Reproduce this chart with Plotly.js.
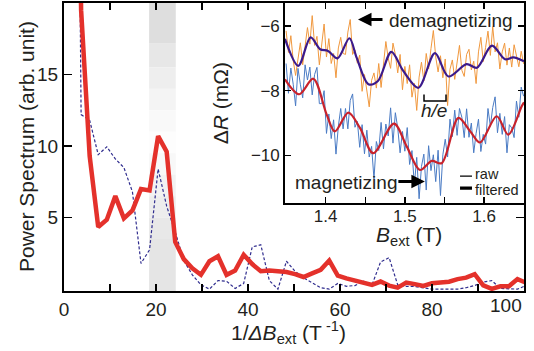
<!DOCTYPE html>
<html>
<head>
<meta charset="utf-8">
<script src="https://cdn.plot.ly/plotly-3.0.1.min.js"></script>
<style>html,body{margin:0;padding:0;background:#fff;}#chart{width:534px;height:351px;}</style>
</head>
<body>
<div id="chart"></div>
<script>
// ---------- main spectrum ----------
var invDeltaB = [1.86,3.72,5.58,7.44,9.30,11.16,13.02,14.88,16.74,18.60,20.46,22.32,24.18,26.04,27.90,29.76,31.62,33.48,35.34,37.20,39.06,40.92,42.78,44.64,46.50,48.36,50.22,52.08,53.94,55.80,57.66,59.52,61.38,63.24,65.10,66.96,68.82,70.68,72.54,74.40,76.26,78.12,79.98,81.84,83.70,85.56,87.42,89.28,91.14,93.00,94.86,96.72,98.58,100.44];
var powerSolid = [60,19.5,9.3,4.35,4.85,6.5,4.95,5.5,7.0,6.9,10.7,9.6,3.3,2.1,1.45,1.0,1.95,2.3,1.0,1.3,2.4,1.75,1.25,1.3,1.25,1.2,1.05,0.85,1.1,1.35,2.0,0.95,0.75,0.6,0.45,0.3,0.53,0.25,0.1,0.46,0.35,0.22,0.41,0.45,0.52,0.7,0.8,1.05,0.27,0.02,0.2,0.2,0.7,0.45];
var powerDashed = [80,12.2,11.8,9.4,9.95,9.1,8.5,6.8,1.8,2.75,8.4,5.8,4.0,2.0,1.0,0.3,0.0,0.6,0.55,0.05,0.4,2.95,3.1,0.6,0.0,1.95,1.25,0.8,0.45,0.1,0.0,0.4,0.2,0.25,0.55,0.3,1.9,2.2,0.3,0.2,0.18,0.1,0.0,0.0,0.0,0.0,0.1,0.25,0.5,0.6,0.05,0.0,0.0,0.25];
var mainXTicks = [0,20,40,60,80];
var mainXMinor = [10,30,50,70,90];
var mainYTicks = [5,10,15];

// ---------- inset: magnetoresistance ----------
var rawB = [1.350,1.353,1.356,1.359,1.362,1.365,1.368,1.371,1.374,1.377,
1.380,1.383,1.386,1.389,1.392,1.395,1.398,1.401,1.404,1.407,
1.410,1.413,1.416,1.419,1.422,1.425,1.428,1.431,1.434,1.437,
1.440,1.443,1.446,1.449,1.452,1.455,1.458,1.461,1.464,1.467,
1.470,1.473,1.476,1.479,1.482,1.485,1.488,1.491,1.494,1.497,
1.500,1.503,1.506,1.509,1.512,1.515,1.518,1.521,1.524,1.527,
1.530,1.533,1.536,1.539,1.542,1.545,1.548,1.551,1.554,1.557,
1.560,1.563,1.566,1.569,1.572,1.575,1.578,1.581,1.584,1.587,
1.590,1.593,1.596,1.599,1.602,1.605,1.608,1.611,1.614,1.617,
1.620,1.623,1.626,1.629,1.632,1.635,1.638,1.641,1.644,1.647,1.650];
var rawDemag = [-6.15,-6.82,-6.30,-7.07,-7.53,-7.02,-6.52,-7.20,-6.55,-6.05,
-6.56,-5.68,-6.60,-6.32,-7.20,-6.53,-5.94,-6.96,-6.39,-7.16,
-6.85,-7.60,-6.68,-6.35,-6.85,-6.88,-6.19,-5.80,-6.88,-6.75,
-7.15,-6.90,-8.02,-7.50,-8.09,-8.50,-7.68,-7.45,-7.92,-7.16,
-7.90,-7.10,-6.48,-7.00,-7.31,-6.53,-6.88,-7.45,-6.88,-7.97,
-7.25,-7.78,-7.20,-8.20,-7.77,-8.61,-7.58,-7.12,-7.70,-6.85,
-7.33,-6.70,-6.14,-6.96,-7.42,-6.92,-7.60,-7.02,-8.46,-7.34,
-7.05,-7.65,-7.16,-6.60,-7.37,-7.56,-6.88,-6.72,-7.36,-7.09,
-7.78,-6.80,-6.35,-7.10,-6.66,-6.16,-6.91,-6.02,-6.80,-6.52,
-7.33,-6.80,-6.53,-7.21,-6.68,-7.27,-6.58,-6.92,-7.26,-6.78,-7.17];
var rawMag = [-7.16,-8.08,-7.30,-7.80,-8.47,-7.31,-7.80,-8.22,-7.20,-7.67,
-7.27,-8.13,-7.50,-7.28,-8.40,-8.40,-8.00,-9.32,-8.72,-9.48,
-8.90,-9.96,-9.10,-8.55,-9.18,-8.55,-9.18,-8.30,-8.10,-9.13,
-8.95,-9.75,-9.05,-9.95,-9.22,-10.05,-9.72,-10.73,-9.57,-9.85,
-8.98,-9.80,-9.03,-9.40,-8.53,-9.62,-8.68,-9.15,-9.92,-9.26,
-9.87,-9.14,-10.28,-9.85,-10.92,-10.06,-11.34,-10.34,-9.96,-11.07,
-9.70,-10.47,-9.98,-10.81,-9.84,-11.24,-9.98,-9.50,-10.05,-8.88,
-9.42,-8.60,-9.38,-8.55,-8.82,-9.45,-8.56,-9.44,-9.00,-9.92,
-9.32,-8.88,-9.88,-9.35,-9.65,-8.55,-9.10,-8.52,-8.19,-9.30,
-8.70,-9.35,-8.80,-9.92,-9.05,-9.15,-9.45,-8.32,-8.82,-7.89,-8.17];
var filtDemagB = [1.3486,1.3654,1.381,1.393,1.403,1.415,1.430,1.439,1.454,1.466,1.483,1.498,1.517,1.538,1.555,1.578,1.591,1.610,1.6265,1.637,1.6505];
var filtDemagR = [-6.40,-7.23,-6.35,-6.72,-6.77,-7.00,-6.38,-6.97,-7.80,-7.70,-6.80,-7.39,-7.91,-6.84,-7.56,-7.18,-7.29,-6.61,-7.03,-6.97,-7.09];
var filtMagB = [1.3486,1.3666,1.3843,1.4013,1.4117,1.4286,1.4433,1.460,1.4863,1.5023,1.5191,1.534,1.5466,1.5676,1.5827,1.595,1.616,1.6307,1.6476,1.6505];
var filtMagR = [-7.65,-8.11,-7.63,-8.74,-9.26,-8.68,-9.15,-9.93,-9.02,-9.72,-10.45,-10.17,-10.24,-8.84,-9.26,-9.60,-8.79,-9.36,-8.48,-8.36];
var insetXTicks = [1.4,1.5,1.6];
var insetXMinor = [1.45,1.55];
var insetYTicks = [-6,-8,-10];

var FONT = 'Liberation Sans, Arial, Helvetica, sans-serif';
var TXT = '#231f20';

var traces = [
  {x: invDeltaB, y: powerDashed, xaxis:'x', yaxis:'y', mode:'lines',
   line:{color:'#2f2c8e', width:1.2, dash:'3px,2px'}},
  {x: invDeltaB, y: powerSolid, xaxis:'x', yaxis:'y', mode:'lines',
   line:{color:'#e4312b', width:4.5}},
  {x: rawB, y: rawDemag, xaxis:'x2', yaxis:'y2', mode:'lines',
   line:{color:'#f0983e', width:1}},
  {x: rawB, y: rawMag, xaxis:'x2', yaxis:'y2', mode:'lines',
   line:{color:'#4a7bc4', width:1}},
  {x: filtDemagB, y: filtDemagR, xaxis:'x2', yaxis:'y2', mode:'lines',
   line:{color:'#3b1a8c', width:2.2, shape:'spline', smoothing:0.9}},
  {x: filtMagB, y: filtMagR, xaxis:'x2', yaxis:'y2', mode:'lines',
   line:{color:'#c9222b', width:2.2, shape:'spline', smoothing:0.9}}
];

// grey highlight band (vertical gradient built from stacked slices)
var band = [[17.2,20.2,'#dedede'],[15.5,17.2,'#e7e7e7'],[14,15.5,'#eeeeee'],[12.5,14,'#f4f4f4'],
            [11,12.5,'#f9f9f9'],[9.5,11,'#fdfdfd'],[8,9.5,'#f8f8f8'],[6.5,8,'#f2f2f2'],
            [5,6.5,'#ededed'],[3.5,5,'#e8e8e8'],[-0.3,3.5,'#e5e5e5']];
var shapes = band.map(function(b){
  return {type:'rect', xref:'x', yref:'y', x0:18.5, x1:24.3, y0:b[0], y1:b[1],
          fillcolor:b[2], line:{width:0}, layer:'below'};
});
// h/e bracket
shapes.push({type:'path', xref:'x2', yref:'y2', path:'M1.5242,-8.115 L1.5242,-8.32 L1.5520,-8.32 L1.5520,-8.115',
             line:{color:'black', width:1.5}});
// legend samples
shapes.push({type:'line', xref:'x2', yref:'y2', x0:1.5697, x1:1.5848, y0:-10.64, y1:-10.64, line:{color:'black', width:1.2}});
shapes.push({type:'line', xref:'x2', yref:'y2', x0:1.5697, x1:1.5848, y0:-11.01, y1:-11.01, line:{color:'black', width:3.2}});

var annotations = [
  {xref:'paper', yref:'paper', x:0, xshift:-38, y:0.5, text:'Power Spectrum (arb. unit)', textangle:-90,
   showarrow:false, xanchor:'center', yanchor:'middle', font:{size:21, color:TXT}},
  {xref:'paper', yref:'paper', x:0.487, y:-0.143, text:'1/<i>ΔB</i><sub>ext</sub> (T<sup> -1</sup>)',
   showarrow:false, xanchor:'center', yanchor:'middle', font:{size:21, color:TXT}},
  {xref:'x2', yref:'paper', x:1.5052, y:0.192, text:'<i>B</i><sub>ext</sub> (T)',
   showarrow:false, xanchor:'center', yanchor:'middle', font:{size:21, color:TXT}},
  {xref:'x', yref:'paper', x:100, y:0, yshift:-14, text:'100', showarrow:false, xanchor:'right', yanchor:'middle',
   font:{size:19, color:TXT}},
  {xref:'x2', yref:'y2', x:1.4775, y:-5.845, text:'demagnetizing', showarrow:false, xanchor:'left', yanchor:'middle',
   font:{size:19, color:TXT}},
  {xref:'x2', yref:'y2', x:1.4408, y:-5.80, text:'', showarrow:true, ax:26, ay:0,
   arrowhead:2, arrowsize:0.9, arrowwidth:3, arrowcolor:'black'},
  {xref:'x2', yref:'y2', x:1.359, y:-10.85, text:'magnetizing', showarrow:false, xanchor:'left', yanchor:'middle',
   font:{size:19, color:TXT}},
  {xref:'x2', yref:'y2', x:1.5253, y:-10.81, text:'', showarrow:true, ax:-28, ay:0,
   arrowhead:2, arrowsize:0.9, arrowwidth:3, arrowcolor:'black'},
  {xref:'x2', yref:'y2', x:1.5368, y:-8.61, text:'<i>h/e</i>', showarrow:false, xanchor:'center', yanchor:'middle',
   font:{size:19, color:TXT}},
  {xref:'x2', yref:'y2', x:1.5873, y:-10.58, text:'raw', showarrow:false, xanchor:'left', yanchor:'middle',
   borderpad:0, font:{size:14.5, color:TXT}},
  {xref:'x2', yref:'y2', x:1.5873, y:-11.06, text:'filtered', showarrow:false, xanchor:'left', yanchor:'middle',
   borderpad:0, font:{size:14.5, color:TXT}}
];

var axBase = {showgrid:false, zeroline:false, showline:true, linecolor:'black', linewidth:2,
              ticks:'inside', tickcolor:'black', tickwidth:1.5, mirror:'ticks'};

var layout = {
  width:534, height:351,
  margin:{l:64, r:10, t:3, b:60, pad:0},
  paper_bgcolor:'white', plot_bgcolor:'white',
  showlegend:false,
  font:{family:FONT, color:TXT},
  xaxis: Object.assign({}, axBase, {
    domain:[0,1], anchor:'y', range:[0,100], tickmode:'array', tickvals:mainXTicks,
    ticklen:7, tickfont:{size:19, color:TXT},
    minor:{tickvals:mainXMinor, ticks:'inside', ticklen:7, tickwidth:1.5, tickcolor:'black', showgrid:false}
  }),
  yaxis: Object.assign({}, axBase, {
    domain:[0,1], anchor:'x', range:[-0.13,20.0], tickmode:'array', tickvals:mainYTicks,
    ticklen:8, tickfont:{size:19, color:TXT}
  }),
  xaxis2: Object.assign({}, axBase, {
    domain:[0.4804,1], anchor:'y2', range:[1.3486,1.6505], tickmode:'array', tickvals:insetXTicks,
    ticklen:6, linewidth:1.8, tickfont:{size:17, color:TXT}, ticklabelstandoff:-4,
    minor:{tickvals:insetXMinor, ticks:'inside', ticklen:6, tickwidth:1.5, tickcolor:'black', showgrid:false}
  }),
  yaxis2: Object.assign({}, axBase, {
    domain:[0.3045,1], anchor:'x2', range:[-11.48,-5.29], tickmode:'array', tickvals:insetYTicks,
    ticklen:6, linewidth:1.8, tickfont:{size:17, color:TXT},
    title:{text:'Δ<i>R</i> (mΩ)', font:{size:21, color:TXT}, standoff:16}
  }),
  shapes: shapes,
  annotations: annotations
};

Plotly.newPlot('chart', traces, layout, {staticPlot:true, displayModeBar:false});
</script>
</body>
</html>
